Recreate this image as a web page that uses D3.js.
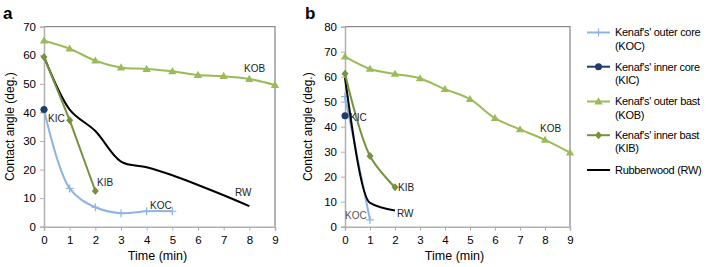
<!DOCTYPE html>
<html>
<head>
<meta charset="utf-8">
<script src="https://cdn.jsdelivr.net/npm/d3@7"></script>
<style>
  body { margin: 0; background: #fff; }
  svg { font-family: "Liberation Sans", Arial, sans-serif; }
</style>
</head>
<body>
<svg id="chart" width="709" height="267"></svg>
<script>
// panel a: kenaf/rubberwood contact angle vs time
var timeA = [0, 1, 2, 3, 4, 5, 6, 7, 8, 9];
var kocA = [41, 13.4, 6.8, 4.7, 5.4, 5.4];
var kicA = [41];
var kobA = [65.1, 62.3, 58.1, 55.7, 55.2, 54.4, 53.1, 52.7, 51.7, 49.6];
var kibA = [59.4, 37.3, 12.5];
var rwA = [59.5, 41, 33.5, 22.8, 20.8, 18, 14.6, 11, 7.2];

// panel b
var timeB = [0, 1, 2, 3, 4, 5, 6, 7, 8, 9];
var kocB = [52, 2.7];
var kicB = [44.4];
var kobB = [68, 63.1, 61.1, 59.3, 55, 51, 43.4, 38.9, 34.7, 29.6];
var kibB = [61.2, 28.3, 15.8];
var rwB = [59.5, 9.5, 6.5];

var yTicksA = [0, 10, 20, 30, 40, 50, 60, 70];
var yTicksB = [0, 10, 20, 30, 40, 50, 60, 70, 80];
var xTicks = [0, 1, 2, 3, 4, 5, 6, 7, 8, 9];

var legendNames = [
  ["Kenaf's' outer core", "(KOC)"],
  ["Kenaf's' inner core", "(KIC)"],
  ["Kenaf's' outer bast", "(KOB)"],
  ["Kenaf's' inner bast", "(KIB)"],
  ["Rubberwood (RW)"]
];

var colors = { koc: "#8db4e2", kic: "#1f3d6b", kob: "#9bbb59", kib: "#76923c", rw: "#000" };
var markers = { koc: "plus", kic: "circle", kob: "triangle", kib: "diamond", rw: null };

var svg = d3.select("#chart");

function drawMarker(g, type, x, y, color) {
  if (type === "plus") {
    g.append("path").attr("d", "M" + (x - 4) + "," + y + "H" + (x + 4) + "M" + x + "," + (y - 4) + "V" + (y + 4))
      .attr("stroke", color).attr("stroke-width", 1.2);
  } else if (type === "circle") {
    g.append("circle").attr("cx", x).attr("cy", y).attr("r", 3.5).attr("fill", color);
  } else if (type === "triangle") {
    g.append("path").attr("d", d3.symbol(d3.symbolTriangle, 30)()).attr("transform", "translate(" + x + "," + (y + 0.5) + ")").attr("fill", color);
  } else if (type === "diamond") {
    g.append("path").attr("d", "M" + x + "," + (y - 4) + "L" + (x + 3.5) + "," + y + "L" + x + "," + (y + 4) + "L" + (x - 3.5) + "," + y + "Z").attr("fill", color);
  }
}

function panel(opt) {
  var x = d3.scaleLinear().domain([0, 9]).range([opt.left, opt.right]);
  var y = d3.scaleLinear().domain([0, opt.ymax]).range([226.7, 26.7]);
  var g = svg.append("g");

  // frame top/right
  g.append("path").attr("d", "M" + opt.left + "," + y(opt.ymax) + "H" + opt.right + "V" + y(0))
    .attr("fill", "none").attr("stroke", "#8c8c8c").attr("stroke-width", 1.3);

  var ya = g.append("g").attr("transform", "translate(" + opt.left + ",0)")
    .call(d3.axisLeft(y).tickValues(opt.yTicks).tickSize(4).tickPadding(4));
  var xa = g.append("g").attr("transform", "translate(0," + y(0) + ")")
    .call(d3.axisBottom(x).tickValues(xTicks).tickSize(4).tickPadding(5));
  [ya, xa].forEach(function (a) {
    a.select(".domain").attr("stroke", "#b0b0b0").attr("stroke-width", 1.5);
    a.selectAll(".tick line").attr("stroke", "#b0b0b0");
    a.selectAll("text").attr("font-size", 11.5).attr("fill", "#000").attr("font-family", "Liberation Sans, Arial, sans-serif");
  });

  g.append("text").attr("transform", "translate(" + opt.ytitleX + ",126.7) rotate(-90)")
    .attr("text-anchor", "middle").attr("dy", "0.35em").attr("font-size", 12).text("Contact angle (deg.)");
  g.append("text").attr("x", (opt.left + opt.right) / 2 + opt.xtitleShift).attr("y", 256).attr("dy", "0.35em")
    .attr("text-anchor", "middle").attr("font-size", 12.5).text("Time (min)");
  g.append("text").attr("x", opt.letterX).attr("y", 13).attr("dy", "0.35em")
    .attr("font-size", 17).attr("font-weight", "bold").text(opt.letter);

  opt.series.forEach(function (s) {
    var pts = s.values.map(function (v, i) { return [x(opt.time[i]), y(v)]; });
    if (pts.length > 1) {
      var line = d3.line().curve(s.curve || d3.curveLinear);
      g.append("path").attr("d", line(pts)).attr("fill", "none")
        .attr("stroke", colors[s.key]).attr("stroke-width", 2);
    }
    if (markers[s.key]) {
      pts.forEach(function (p) { drawMarker(g, markers[s.key], p[0], p[1], colors[s.key]); });
    }
  });

  opt.labels.forEach(function (l) {
    g.append("text").attr("x", l[1]).attr("y", l[2]).attr("dy", "0.35em")
      .attr("font-size", 10).attr("fill", l[3] || "#222").text(l[0]);
  });
}

var smooth = d3.curveCatmullRom.alpha(0.5);

panel({
  left: 44, right: 275, ymax: 70, yTicks: yTicksA, ytitleX: 10, xtitleShift: -2, letter: "a", letterX: 3, time: timeA,
  series: [
    { key: "koc", values: kocA, curve: smooth },
    { key: "kob", values: kobA, curve: smooth },
    { key: "rw", values: rwA, curve: smooth },
    { key: "kib", values: kibA },
    { key: "kic", values: kicA }
  ],
  labels: [["KIC", 48, 118], ["KIB", 97, 182], ["KOC", 150, 205], ["RW", 235, 192], ["KOB", 244, 68]]
});

panel({
  left: 345, right: 570, ymax: 80, yTicks: yTicksB, ytitleX: 308, xtitleShift: -3, letter: "b", letterX: 305, time: timeB,
  series: [
    { key: "kob", values: kobB, curve: smooth },
    { key: "koc", values: kocB },
    { key: "rw", values: rwB, curve: d3.curveMonotoneX },
    { key: "kib", values: kibB, curve: smooth },
    { key: "kic", values: kicB }
  ],
  labels: [["KIC", 350, 117], ["KIB", 398, 187], ["RW", 397, 213], ["KOC", 345, 215, "#555"], ["KOB", 540, 128]]
});

// legend
var legendKeys = ["koc", "kic", "kob", "kib", "rw"];
var legendY = [32.5, 66.7, 101.5, 135.2, 170];
var lg = svg.append("g");
legendKeys.forEach(function (k, i) {
  var yy = legendY[i];
  lg.append("line").attr("x1", 587).attr("x2", 610).attr("y1", yy).attr("y2", yy)
    .attr("stroke", colors[k]).attr("stroke-width", 2);
  if (markers[k]) drawMarker(lg, markers[k], 598.5, yy, colors[k]);
  legendNames[i].forEach(function (t, j) {
    lg.append("text").attr("x", 615).attr("y", yy + j * 13.3).attr("dy", "0.35em")
      .attr("font-size", 11).attr("letter-spacing", -0.3).text(t);
  });
});
</script>
</body>
</html>
